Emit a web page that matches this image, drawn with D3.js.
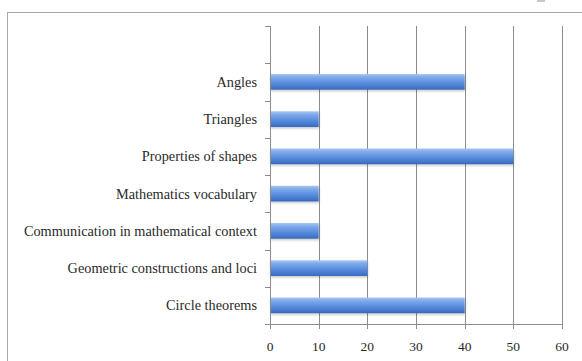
<!DOCTYPE html>
<html><head><meta charset="utf-8">
<script src="https://cdn.jsdelivr.net/npm/d3@7"></script>
<style>html,body{margin:0;padding:0;background:#fff;overflow:hidden}</style>
</head><body>
<svg id="c" width="582" height="361"></svg>
<script>
const categories = ["", "Angles", "Triangles", "Properties of shapes", "Mathematics vocabulary",
  "Communication in mathematical context", "Geometric constructions and loci", "Circle theorems"];
const values = [null, 40, 10, 50, 10, 10, 20, 40];
const xTicks = [0, 10, 20, 30, 40, 50, 60];

const svg = d3.select("#c");
const font = "'Liberation Serif', 'DejaVu Serif', serif";

// frame
svg.append("rect").attr("x", 7.5).attr("y", 12.5).attr("width", 600).attr("height", 400)
  .attr("fill", "none").attr("stroke", "#a8a8a8").attr("stroke-width", 1);
svg.append("rect").attr("x", 537).attr("y", 0).attr("width", 8).attr("height", 2).attr("fill", "#c8c8c8");

const x = d3.scaleLinear().domain([0, 60]).range([270, 562]);
const y = d3.scaleBand().domain(categories.map((c, i) => i)).range([26, 324]).paddingInner(0.58).paddingOuter(0.29);

const defs = svg.append("defs");
const g = defs.append("linearGradient").attr("id", "bg").attr("x1", 0).attr("y1", 0).attr("x2", 0).attr("y2", 1);
[[0, "#a6c6f3"], [0.2, "#80abeb"], [0.55, "#5b8edf"], [0.85, "#4477cc"], [1, "#3566b6"]].forEach(s =>
  g.append("stop").attr("offset", s[0]).attr("stop-color", s[1]));
const f = defs.append("filter").attr("id", "sh").attr("x", -0.05).attr("y", -0.3).attr("width", 1.1).attr("height", 1.8);
f.append("feDropShadow").attr("dx", 0.5).attr("dy", 1.5).attr("stdDeviation", 1).attr("flood-color", "#000").attr("flood-opacity", 0.22);

// gridlines
svg.append("g").selectAll("line").data(xTicks.slice(1)).join("line")
  .attr("x1", d => Math.round(x(d)) + 0.5).attr("x2", d => Math.round(x(d)) + 0.5)
  .attr("y1", 26).attr("y2", 324).attr("stroke", "#8c8c8c").attr("stroke-width", 1);

// bars
svg.append("g").selectAll("rect").data(values.map((v, i) => ({v, i})).filter(d => d.v != null)).join("rect")
  .attr("x", x(0)).attr("y", d => y(d.i)).attr("width", d => x(d.v) - x(0)).attr("height", y.bandwidth())
  .attr("fill", "url(#bg)").attr("filter", "url(#sh)");

// y axis
const ya = svg.append("g");
ya.append("line").attr("x1", 270.5).attr("x2", 270.5).attr("y1", 26).attr("y2", 324).attr("stroke", "#8c8c8c");
const bounds = d3.range(categories.length + 1).map(i => 26 + i * (298 / categories.length));
ya.selectAll("line.t").data(bounds).join("line").attr("class", "t")
  .attr("x1", 265).attr("x2", 270).attr("y1", d => Math.round(d) + 0.5).attr("y2", d => Math.round(d) + 0.5)
  .attr("stroke", "#8c8c8c");
ya.selectAll("text").data(categories.map((c, i) => ({c, i})).filter(d => d.c)).join("text")
  .attr("x", 257).attr("y", d => y(d.i) + y.bandwidth() / 2).attr("dy", "0.35em")
  .attr("text-anchor", "end").attr("font-family", font).attr("font-size", 14.3).attr("fill", "#2a2a2a")
  .text(d => d.c);

// x axis
const xa = svg.append("g");
xa.append("line").attr("x1", 265).attr("x2", 562).attr("y1", 324.5).attr("y2", 324.5).attr("stroke", "#8c8c8c");
xa.selectAll("line.t").data(xTicks).join("line").attr("class", "t")
  .attr("x1", d => Math.round(x(d)) + 0.5).attr("x2", d => Math.round(x(d)) + 0.5)
  .attr("y1", 324).attr("y2", 329).attr("stroke", "#8c8c8c");
xa.selectAll("text").data(xTicks).join("text")
  .attr("x", d => x(d)).attr("y", 346).attr("dy", "0.35em").attr("text-anchor", "middle")
  .attr("font-family", font).attr("font-size", 13.5).attr("fill", "#2a2a2a").text(d => d);
</script>
</body></html>
